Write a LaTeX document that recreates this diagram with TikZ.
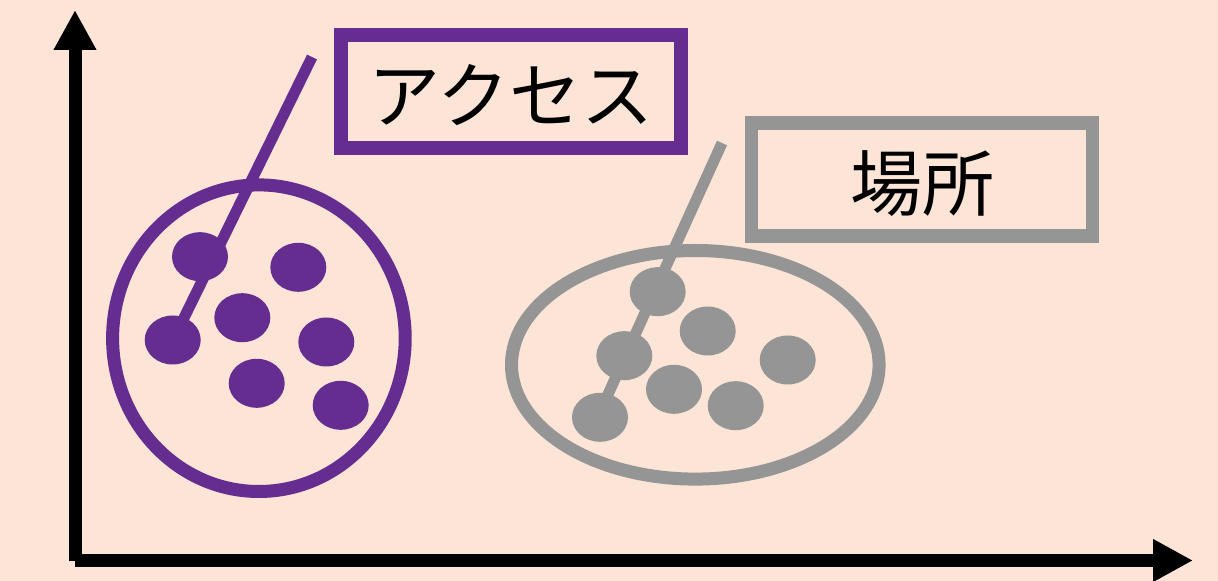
\documentclass[tikz,border=0pt]{standalone}
\usepackage{fontspec}
\newfontfamily\cjk{Noto Sans CJK JP}
\usetikzlibrary{shapes.geometric,arrows.meta}
\definecolor{bgc}{HTML}{FCE4D6}
\definecolor{purp}{HTML}{662D91}
\definecolor{grayc}{HTML}{959595}
\newcommand{\lowertext}[1]{\raisebox{-2pt}[\height][\depth]{#1}}
\tikzset{
  axis/.style={line width=6.5pt, black, -{Triangle[length=20pt,width=20pt]}},
  group/.style={ellipse, draw=#1, line width=6.5pt, inner sep=0pt, fill=none},
  dot/.style={ellipse, fill=#1, draw=none, minimum width=28pt, minimum height=24.5pt, inner sep=0pt},
  pointer/.style={draw=#1, line width=5.5pt},
  labelbox/.style={rectangle, draw=#1, line width=6.75pt, inner sep=0pt, text=black, font=\cjk\fontsize{36}{40}\selectfont},
}
\begin{document}
\begin{tikzpicture}[x=0.5pt,y=-0.5pt]
\fill[bgc] (0,0) rectangle (1218,581);
\useasboundingbox (0,0) rectangle (1218,581);
% axes
\coordinate (yb) at (75,561);
\coordinate (yt) at (75,10);
\coordinate (xl) at (75,560.5);
\coordinate (xr) at (1193,560.5);
\draw[axis] (yb) -- (yt);
\draw[axis] (xl) -- (xr);
% purple group
\node[group=purp, minimum width=146.3pt, minimum height=153.3pt] (pc) at (258.9,338.2) {};
\coordinate (pt) at (312,57);
\coordinate (pe) at (180,326);
\draw[pointer=purp] (pt) -- (pe);
\node[dot=purp] (p1) at (200,256.7) {};
\node[dot=purp] (p2) at (298.3,267.3) {};
\node[dot=purp] (p3) at (242.3,317.7) {};
\node[dot=purp] (p4) at (326.3,342) {};
\node[dot=purp] (p5) at (172.7,340) {};
\node[dot=purp] (p6) at (256.7,383.3) {};
\node[dot=purp] (p7) at (340.7,405.3) {};
\node[labelbox=purp, minimum width=170pt, minimum height=56.5pt] (pl) at (511,91.5) {\lowertext{アクセス}};
% gray group
\node[group=grayc, minimum width=183.8pt, minimum height=114.3pt] (gc) at (695.3,364.8) {};
\coordinate (gt) at (722,143);
\coordinate (ge) at (600,412);
\draw[pointer=grayc] (gt) -- (ge);
\node[dot=grayc] (g1) at (657.7,291.7) {};
\node[dot=grayc] (g2) at (707.7,331) {};
\node[dot=grayc] (g3) at (624.3,355.7) {};
\node[dot=grayc] (g4) at (787.7,360) {};
\node[dot=grayc] (g5) at (674,389.3) {};
\node[dot=grayc] (g6) at (735.7,405.7) {};
\node[dot=grayc] (g7) at (600,417.3) {};
\node[labelbox=grayc, minimum width=170.3pt, minimum height=56.5pt] (gl) at (922,179.5) {\lowertext{場所}};
\end{tikzpicture}
\end{document}
